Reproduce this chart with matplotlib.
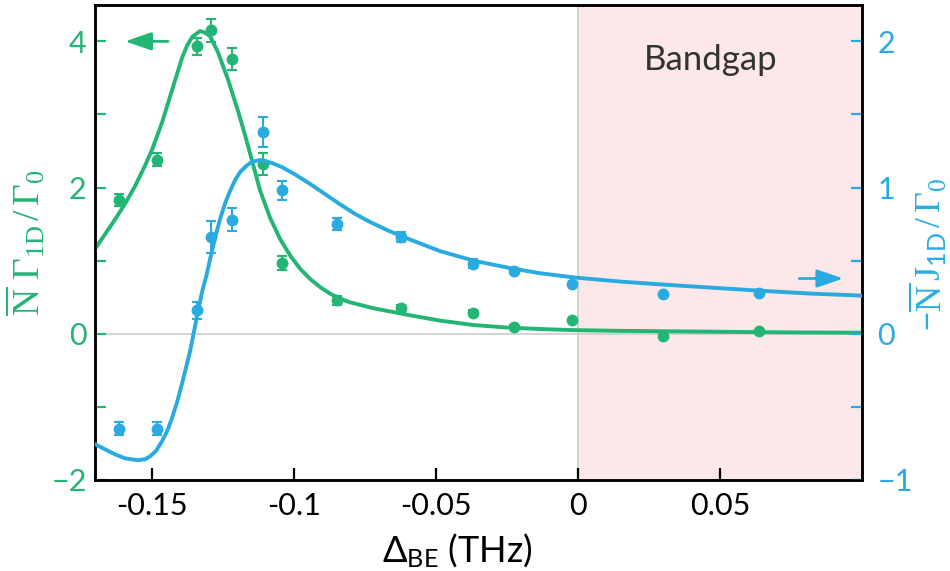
import matplotlib
matplotlib.use('Agg')
import matplotlib.pyplot as plt
from matplotlib.ticker import MultipleLocator, FixedLocator, FixedFormatter

plt.rcParams['font.family'] = ['Lato', 'DejaVu Sans']
plt.rcParams['mathtext.fontset'] = 'custom'
plt.rcParams['mathtext.rm'] = 'Liberation Serif'
plt.rcParams['mathtext.it'] = 'Liberation Serif:italic'
plt.rcParams['mathtext.sf'] = 'Lato'

GREEN = '#22B573'
BLUE = '#29ABE2'

# ── measured points ──────────────────────────────────────────────────────
detuning = [-0.1614, -0.1483, -0.1341, -0.1290, -0.1217, -0.1107, -0.1040,
            -0.0847, -0.0623, -0.0368, -0.0224, -0.0021, 0.0298, 0.0638]
gamma_1d = [1.83, 2.38, 3.93, 4.15, 3.76, 2.32, 0.97,
            0.46, 0.35, 0.29, 0.09, 0.19, -0.03, 0.04]
gamma_err = [0.08, 0.09, 0.11, 0.16, 0.15, 0.15, 0.10,
             0.06, 0.05, 0.04, 0.03, 0.0, 0.0, 0.0]
j_1d = [-0.65, -0.65, 0.16, 0.66, 0.78, 1.38, 0.98,
        0.75, 0.66, 0.48, 0.43, 0.34, 0.27, 0.28]
j_err = [0.045, 0.045, 0.06, 0.11, 0.077, 0.10, 0.063,
         0.04, 0.035, 0.03, 0.02, 0.0, 0.0, 0.0]

# ── fitted curves ────────────────────────────────────────────────────────
gfit_x = [-0.1700, -0.1665, -0.1630, -0.1594, -0.1559, -0.1524, -0.1499,
          -0.1464, -0.1429, -0.1394, -0.1376, -0.1358, -0.1331, -0.1313,
          -0.1295, -0.1267, -0.1232, -0.1196, -0.1172, -0.1148, -0.1119,
          -0.1084, -0.1049, -0.1013, -0.0978, -0.0943, -0.0908, -0.0873,
          -0.0838, -0.0802, -0.0721, -0.0601, -0.0485, -0.0369, -0.0249,
          -0.0133, -0.0017, 0.0149, 0.0430, 0.0712, 0.1000]
gfit_y = [1.16, 1.36, 1.56, 1.78, 2.02, 2.30, 2.52,
          2.89, 3.33, 3.77, 3.94, 4.06, 4.14, 4.12,
          4.07, 3.85, 3.48, 3.04, 2.72, 2.38, 1.96,
          1.59, 1.30, 1.07, 0.89, 0.75, 0.64, 0.55,
          0.48, 0.43, 0.35, 0.26, 0.18, 0.12, 0.085,
          0.065, 0.05, 0.04, 0.03, 0.02, 0.014]

bfit_x = [-0.1700, -0.1665, -0.1630, -0.1594, -0.1549, -0.1524, -0.1506,
          -0.1485, -0.1464, -0.1446, -0.1429, -0.1411, -0.1394, -0.1380,
          -0.1365, -0.1351, -0.1337, -0.1323, -0.1306, -0.1292, -0.1277,
          -0.1260, -0.1242, -0.1225, -0.1207, -0.1189, -0.1172, -0.1154,
          -0.1137, -0.1119, -0.1101, -0.1077, -0.1042, -0.0996, -0.0943,
          -0.0890, -0.0837, -0.0785, -0.0732, -0.0667, -0.0601, -0.0485,
          -0.0369, -0.0249, -0.0133, -0.0017, 0.0149, 0.0296, 0.0465,
          0.0638, 0.0818, 0.1000]
bfit_y = [-0.755, -0.79, -0.824, -0.852, -0.865, -0.858, -0.838,
          -0.80, -0.735, -0.666, -0.577, -0.467, -0.343, -0.234,
          -0.117, 0.021, 0.158, 0.288, 0.412, 0.536, 0.659,
          0.783, 0.893, 0.975, 1.051, 1.106, 1.140, 1.168,
          1.181, 1.188, 1.181, 1.168, 1.140, 1.090, 1.025,
          0.955, 0.885, 0.820, 0.765, 0.705, 0.652, 0.565,
          0.501, 0.453, 0.414, 0.386, 0.357, 0.337, 0.316,
          0.295, 0.275, 0.261]

xticks = [-0.15, -0.1, -0.05, 0, 0.05]
xtick_labels = ['-0.15', '-0.1', '-0.05', '0', '0.05']
left_ticks = [-2, 0, 2, 4]
right_ticks = [-1, 0, 1, 2]

# ── figure ───────────────────────────────────────────────────────────────
fig = plt.figure(figsize=(9.5, 5.71), dpi=100)
ax = fig.add_axes([0.1, 0.1594, 0.8074, 0.8322])
ax2 = ax.twinx()

ax.set_xlim(-0.17, 0.1)
ax.set_ylim(-2, 4.5)
ax2.set_ylim(-1, 2.25)

ax.axvspan(0, 0.1, color='#FCE8E9', zorder=0, lw=0)
ax.axvline(0, color='#CCCCCC', lw=1.2, zorder=1)
ax.axhline(0, color='#CCCCCC', lw=1.2, zorder=1)

ax.plot(gfit_x, gfit_y, color=GREEN, lw=2.8, zorder=3)
ax.errorbar(detuning, gamma_1d, yerr=gamma_err, fmt='o', color=GREEN,
            ms=7.5, elinewidth=1.5, capsize=3.5, capthick=1.5, zorder=4)

ax2.plot(bfit_x, bfit_y, color=BLUE, lw=2.8, zorder=3)
ax2.errorbar(detuning, j_1d, yerr=j_err, fmt='o', color=BLUE,
             ms=7.5, elinewidth=1.5, capsize=3.5, capthick=1.5, zorder=4)

# arrows pointing to the matching axis
ax.annotate('', xy=(-0.1594, 4.0), xytext=(-0.1443, 4.0),
            arrowprops=dict(arrowstyle='-|>,head_length=1.6,head_width=0.55',
                            color=GREEN, lw=2.0, shrinkA=0, shrinkB=0))
ax2.annotate('', xy=(0.0934, 0.378), xytext=(0.0779, 0.378),
             arrowprops=dict(arrowstyle='-|>,head_length=1.6,head_width=0.55',
                             color=BLUE, lw=2.0, shrinkA=0, shrinkB=0))

ax.text(0.0469, 3.61, 'Bandgap', ha='center', va='baseline',
        fontsize=25, color='#333333')

# ticks
ax.xaxis.set_major_locator(FixedLocator(xticks))
ax.xaxis.set_major_formatter(FixedFormatter(xtick_labels))
ax.tick_params(axis='x', direction='in', length=9, width=1.6,
               labelsize=22, pad=9, top=False)

ax.yaxis.set_major_locator(FixedLocator(left_ticks))
ax.yaxis.set_minor_locator(MultipleLocator(1))
ax.tick_params(axis='y', which='both', direction='in', length=8, width=1.6,
               colors=GREEN, labelsize=22, pad=6)

ax2.yaxis.set_major_locator(FixedLocator(right_ticks))
ax2.yaxis.set_minor_locator(MultipleLocator(0.5))
ax2.tick_params(axis='y', which='both', direction='in', length=8, width=1.6,
                colors=BLUE, labelsize=22, pad=11)

for a in (ax, ax2):
    for sp in a.spines.values():
        sp.set_color('black')
        sp.set_linewidth(1.8)

ax.set_xlabel('\u0394$_{\\mathsf{BE}}$ (THz)', fontsize=26)
ax.xaxis.set_label_coords(0.472, -0.108)

ax.set_ylabel(r'$\overline{\mathrm{N}}\ \Gamma_{\mathrm{1D}}\,/\,\Gamma_0$',
              color=GREEN, fontsize=27)
ax.yaxis.set_label_coords(-0.062, 0.5)
ax2.set_ylabel(r'$\mathsf{-}\overline{\mathrm{N}}\,\mathrm{J}_{\mathsf{1D}}\,/\,\Gamma_0$',
               color=BLUE, fontsize=26)
ax2.yaxis.set_label_coords(1.058, 0.474)

fig.savefig('out.png', dpi=100)
print('Saved out.png')
